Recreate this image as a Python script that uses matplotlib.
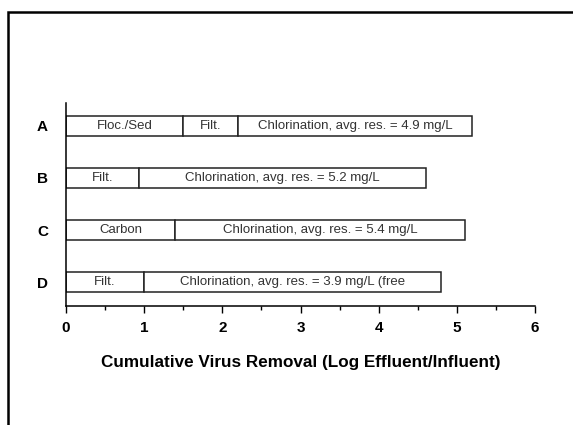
import matplotlib
matplotlib.use('Agg')
import matplotlib.pyplot as plt
from matplotlib.patches import Rectangle
from matplotlib.ticker import MultipleLocator

plt.rcParams['font.family'] = ['Liberation Sans', 'DejaVu Sans']

rows = ['D', 'C', 'B', 'A']
# stage names and cumulative log removal for each stage, per row (bottom to top)
stage_names = [
    ['Filt.', 'Chlorination, avg. res. = 3.9 mg/L (free'],
    ['Carbon', 'Chlorination, avg. res. = 5.4 mg/L'],
    ['Filt.', 'Chlorination, avg. res. = 5.2 mg/L'],
    ['Floc./Sed', 'Filt.', 'Chlorination, avg. res. = 4.9 mg/L'],
]
stage_ends = [
    [1.0, 4.8],
    [1.4, 5.1],
    [0.93, 4.6],
    [1.5, 2.2, 5.2],
]

fig = plt.figure(figsize=(5.73, 4.25), dpi=100)
fig.patches.append(Rectangle((0.014, -0.1), 1.2, 1.072, transform=fig.transFigure,
                             fill=False, edgecolor='black', linewidth=1.8))
ax = fig.add_axes([0.1152, 0.28, 0.8185, 0.4776])

for i, (names, ends) in enumerate(zip(stage_names, stage_ends)):
    start = 0
    for name, end in zip(names, ends):
        ax.barh(i, end - start, left=start, height=0.4, color='white',
                edgecolor='#222222', linewidth=1.1)
        ax.text((start + end) / 2, i, name, ha='center', va='center',
                fontsize=9.5, color='#333333')
        start = end

ax.set_xlim(0, 6)
ax.set_ylim(-0.46, 3.44)
ax.set_yticks(range(len(rows)))
ax.set_yticklabels(rows, fontweight='bold', fontsize=11)
ax.tick_params(axis='y', length=0, pad=13)
ax.xaxis.set_minor_locator(MultipleLocator(0.5))
ax.tick_params(axis='x', which='major', length=5, width=1, labelsize=11, pad=6)
ax.tick_params(axis='x', which='minor', length=3, width=1)
for lab in ax.get_xticklabels():
    lab.set_fontweight('bold')
ax.spines['top'].set_visible(False)
ax.spines['right'].set_visible(False)
ax.spines['left'].set_linewidth(1.1)
ax.spines['bottom'].set_linewidth(1.1)
ax.set_xlabel('Cumulative Virus Removal (Log Effluent/Influent)', fontweight='bold',
              fontsize=12.3, labelpad=14)

fig.savefig('out.png', dpi=100)
